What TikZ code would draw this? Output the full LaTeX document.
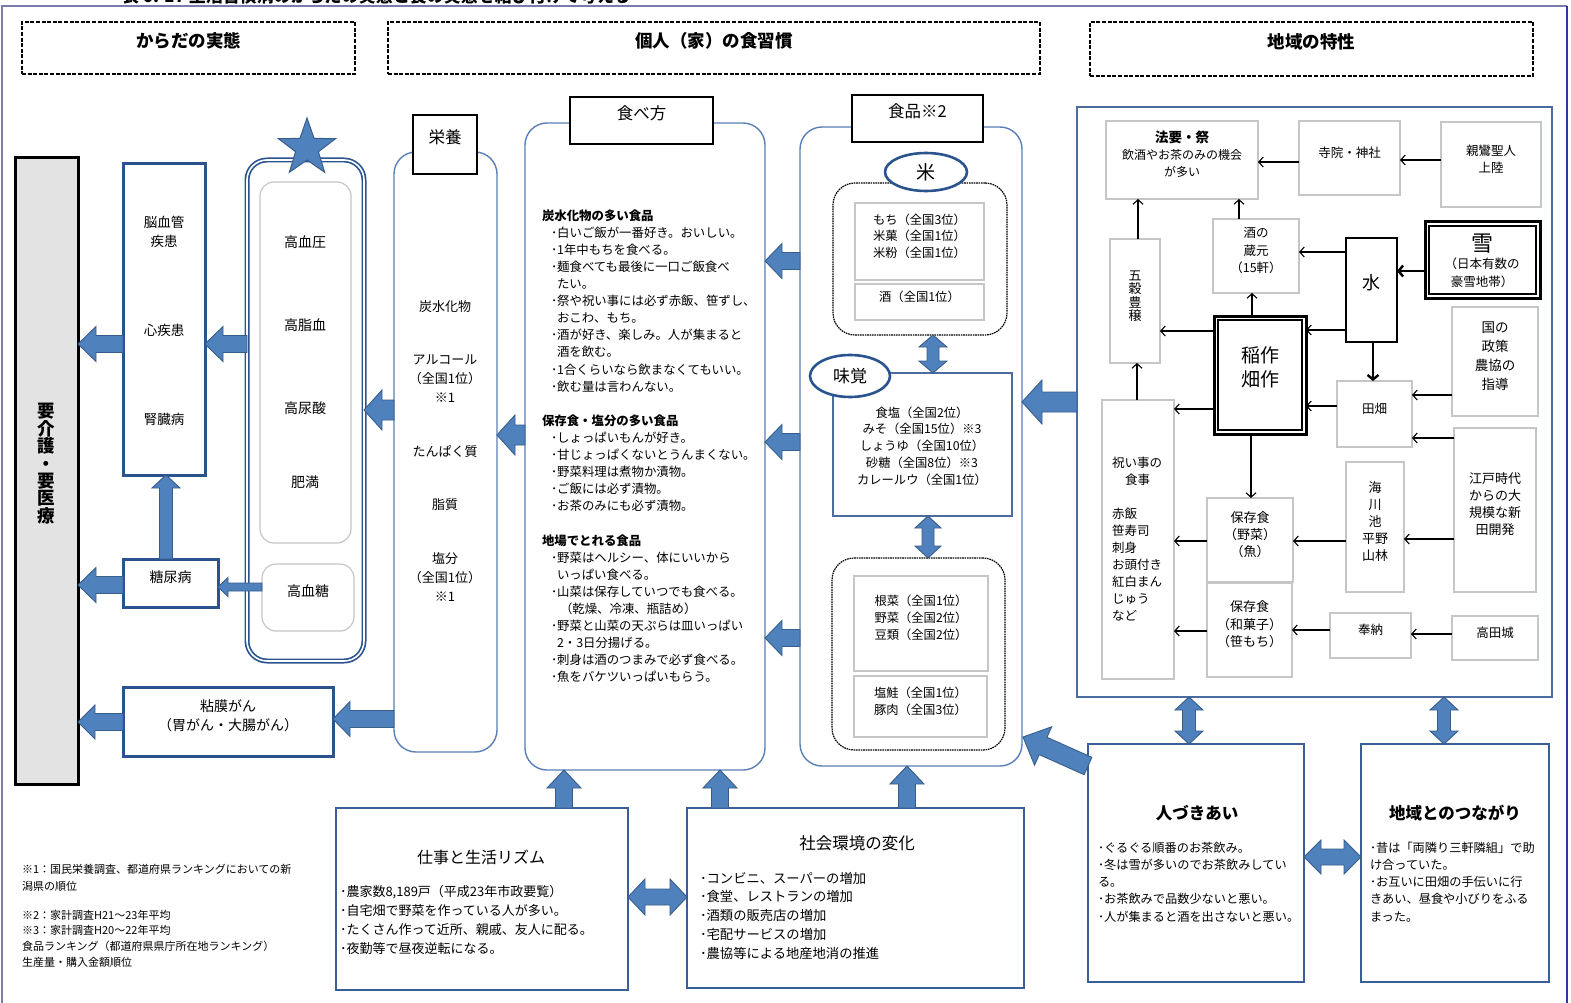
\documentclass[tikz,border=0pt]{standalone}
\usepackage{fontspec}
\setmainfont{Noto Sans CJK JP}
\usetikzlibrary{calc,fit,shapes.geometric,arrows.meta}
\definecolor{afill}{HTML}{4F81BD}
\definecolor{adraw}{HTML}{385D8A}
\definecolor{dblue}{HTML}{2B548F}
\definecolor{bblue2}{HTML}{3A5F96}
\definecolor{cblue}{HTML}{5A7FB6}
\definecolor{rblue}{HTML}{4B6C9E}
\definecolor{gbord}{HTML}{C6C6C6}
\definecolor{framel}{HTML}{7C7CAA}
\definecolor{framer}{HTML}{2B3A9A}
\newcommand\fsz[2]{\fontsize{#1}{#2}\selectfont}
\newcommand\eatb{\hspace*{9pt}･}
\newcommand\eatc{\hspace*{15pt}}
\newcommand\blockarrow[5]{%
  \coordinate (ba-s) at (#1); \coordinate (ba-e) at (#2);
  \coordinate (ba-h) at ($(ba-e)!#5pt!(ba-s)$);
  \filldraw[barrow] ($(ba-s)!#3pt!90:(ba-e)$) -- ($(ba-h)!#3pt!90:(ba-e)$) -- ($(ba-h)!#4pt!90:(ba-e)$) -- (ba-e)
    -- ($(ba-h)!#4pt!-90:(ba-e)$) -- ($(ba-h)!#3pt!-90:(ba-e)$) -- ($(ba-s)!#3pt!-90:(ba-e)$) -- cycle;}
\newcommand\dblarrow[5]{%
  \coordinate (ba-s) at (#1); \coordinate (ba-e) at (#2);
  \coordinate (ba-h) at ($(ba-e)!#5pt!(ba-s)$);
  \coordinate (ba-g) at ($(ba-s)!#5pt!(ba-e)$);
  \filldraw[barrow] (ba-s) -- ($(ba-g)!#4pt!90:(ba-e)$) -- ($(ba-g)!#3pt!90:(ba-e)$) -- ($(ba-h)!#3pt!90:(ba-e)$) -- ($(ba-h)!#4pt!90:(ba-e)$) -- (ba-e)
    -- ($(ba-h)!#4pt!-90:(ba-e)$) -- ($(ba-h)!#3pt!-90:(ba-e)$) -- ($(ba-g)!#3pt!-90:(ba-e)$) -- ($(ba-g)!#4pt!-90:(ba-e)$) -- cycle;}
\tikzset{
  every node/.style={inner sep=0pt, outer sep=0pt, align=center, font=\fsz{12}{17}},
  hdr/.style={draw, line width=1.8pt, dash pattern=on 4pt off 1.6pt, font=\bfseries\fsz{17.5}{20}},
  bbox/.style={draw=dblue, line width=3pt, font=\fsz{14}{18.5}},
  bbox2/.style={draw=bblue2, line width=2.2pt},
  col/.style={draw=cblue, line width=1.4pt, rounded corners=22pt},
  lab/.style={draw=black, line width=1.3pt, fill=white, font=\fsz{16.5}{20}},
  gbox/.style={draw=gbord, line width=1.8pt, font=\fsz{12.5}{17}},
  kbox/.style={draw=black, line width=2.4pt},
  inbox/.style={draw=gray!45, line width=1.2pt, rounded corners=14pt, font=\fsz{14}{18}},
  dgrp/.style={draw=black, line width=1.2pt, dash pattern=on 1.6pt off 0.8pt, rounded corners=22pt},
  ell/.style={ellipse, draw=dblue, line width=2.6pt, fill=white, minimum width=82pt, minimum height=38pt, font=\fsz{19}{19}},
  barrow/.style={fill=afill, draw=adraw, line width=0.9pt, line join=miter},
  bk/.style={draw=black, line width=1.1pt, -{Straight Barb[length=4.5pt,width=10pt]}},
  bkt/.style={draw=black, line width=2.4pt, -{Straight Barb[length=4.5pt,width=11pt]}},
  dbox/.style={draw=dblue, double=white, double distance=1.6pt, line width=1.7pt, rounded corners=20pt},
  region/.style={draw=rblue, line width=2.6pt},
  txt/.style={anchor=north west, align=left},
}
\begin{document}
\begin{tikzpicture}[x=1pt,y=-1pt]
\useasboundingbox (0,0) rectangle (1571,1003);
\fill[white] (0,0) rectangle (1571,1003);
% title (cut at top, as in the reference) and frame
\node[anchor=base, font=\bfseries\fsz{17}{17}] (title) at (376,2.5) {表 6. 17 生活習慣病のからだの実態と食の実態を結び付けて考える};
\draw[framel, line width=1.2pt] (2,1003) -- (2,6) -- (1567,6);
\draw[framer, line width=1.2pt] (1567,6) -- (1567,1003);
% headers
\node[hdr, fit={(22,22) (355,74)}] (h1) {からだの実態};
\node[hdr, fit={(388,22) (1040,74)}] (h2) {個人（家）の食習慣};
\node[hdr, fit={(1090,22) (1533,76)}] (h3) {地域の特性};
% body column
\node[draw, line width=3pt, fill=gray!22, fit={(15,158) (78,784)}, font=\bfseries\fsz{17.5}{17.4}] (care) {要\\介\\護\\・\\要\\医\\療};
\node[bbox, fit={(123,164) (205,475)}] (dis) {};
\node[font=\fsz{13.5}{19}] (d1) at (164,232) {脳血管\\疾患};
\node[font=\fsz{13.5}{19}] (d2) at (164,330) {心疾患};
\node[font=\fsz{13.5}{19}] (d3) at (164,419) {腎臓病};
\node[dbox, fit={(247,160) (364,661)}] (hbox) {};
\node[inbox, fit={(260,182) (351,543)}] (hb1) {};
\node[font=\fsz{14}{18}] (k1) at (305,242) {高血圧};
\node[font=\fsz{14}{18}] (k2) at (305,325) {高脂血};
\node[font=\fsz{14}{18}] (k3) at (305,408) {高尿酸};
\node[font=\fsz{14}{18}] (k4) at (305,482) {肥満};
\node[inbox, fit={(262,564) (354,631)}] (hb2) {高血糖};
\node[star, star points=5, star point ratio=2.5, minimum size=60pt, fill=afill, draw=adraw, line width=1pt] (star) at (307,148) {};
\node[bbox, fit={(123,559) (218,607)}] (dm) {糖尿病};
\node[bbox, fit={(123,687) (333,756)}] (can) {粘膜がん\\（胃がん・大腸がん）};
% nutrition column
\node[col, fit={(394,152) (497,752)}] (nut) {};
\node[lab, fit={(413,115) (477,174)}] (nutl) {栄養};
\node[font=\fsz{13}{19}] (n1) at (445,307) {炭水化物};
\node[font=\fsz{13}{19}] (n2) at (445,379) {アルコール\\（全国1位）\\※1};
\node[font=\fsz{13}{19}] (n3) at (445,452) {たんぱく質};
\node[font=\fsz{13}{19}] (n4) at (445,505) {脂質};
\node[font=\fsz{13}{19}] (n5) at (445,577) {塩分\\（全国1位）\\※1};
% eating column
\node[col, fit={(525,123) (765,770)}] (eat) {};
\node[lab, fit={(570,97) (713,144)}] (eatl) {食べ方};
\node[txt, font=\fsz{12.4}{17.1}] (eattx) at (542,209.5) {%
\textbf{炭水化物の多い食品}\\
\eatb 白いご飯が一番好き。おいしい。\\
\eatb 1年中もちを食べる。\\
\eatb 麺食べても最後に一口ご飯食べ\\
\eatc たい。\\
\eatb 祭や祝い事には必ず赤飯、笹ずし、\\
\eatc おこわ、もち。\\
\eatb 酒が好き、楽しみ。人が集まると\\
\eatc 酒を飲む。\\
\eatb 1合くらいなら飲まなくてもいい。\\
\eatb 飲む量は言わんない。\\
\mbox{}\\
\textbf{保存食・塩分の多い食品}\\
\eatb しょっぱいもんが好き。\\
\eatb 甘じょっぱくないとうんまくない。\\
\eatb 野菜料理は煮物か漬物。\\
\eatb ご飯には必ず漬物。\\
\eatb お茶のみにも必ず漬物。\\
\mbox{}\\
\textbf{地場でとれる食品}\\
\eatb 野菜はヘルシー、体にいいから\\
\eatc いっぱい食べる。\\
\eatb 山菜は保存していつでも食べる。\\
\eatc\hspace*{3pt}（乾燥、冷凍、瓶詰め）\\
\eatb 野菜と山菜の天ぷらは皿いっぱい\\
\eatc 2・3日分揚げる。\\
\eatb 刺身は酒のつまみで必ず食べる。\\
\eatb 魚をバケツいっぱいもらう。};
% food column
\node[col, fit={(800,127) (1022,766)}] (food) {};
\node[lab, fit={(852,95) (983,142)}] (foodl) {食品※2};
\node[dgrp, fit={(833,183) (1007,335)}] (riceg) {};
\node[gbox, font=\fsz{12.3}{16.5}, fit={(855,203) (984,280)}] (rice1) {もち（全国3位）\\米菓（全国1位）\\米粉（全国1位）};
\node[gbox, font=\fsz{12.3}{16.5}, fit={(855,284) (984,320)}] (rice2) {酒（全国1位）};
\node[ell] (ricel) at (926,172) {米};
\node[draw=rblue, line width=1.2pt, fit={(833,373) (1012,516)}] (taste) {};
\node[font=\fsz{12.3}{16.8}] (tastetx) at (922,446) {食塩（全国2位）\\みそ（全国15位）※3\\しょうゆ（全国10位）\\砂糖（全国8位）※3\\カレールウ（全国1位）};
\node[ell, minimum width=80pt, minimum height=42pt, font=\fsz{17}{17}] (tastel) at (850,376) {味覚};
\node[dgrp, fit={(832,558) (1005,750)}] (lowg) {};
\node[gbox, font=\fsz{12.3}{17}, fit={(854,576) (988,671)}] (low1) {根菜（全国1位）\\野菜（全国2位）\\豆類（全国2位）};
\node[gbox, font=\fsz{12.3}{17}, fit={(854,676) (987,737)}] (low2) {塩鮭（全国1位）\\豚肉（全国3位）};
% region
\node[region, fit={(1077,107) (1552,697)}] (region) {};
\node[gbox, fit={(1106,121) (1258,199)}, font=\fsz{12}{17}] (hoyo) {{\bfseries\fsz{13.5}{17}法要・祭}\\飲酒やお茶のみの機会\\が多い};
\node[gbox, fit={(1299,121) (1400,195)}] (tera) {寺院・神社};
\node[gbox, fit={(1441,122) (1541,207)}] (shin) {親鸞聖人\\上陸};
\node[gbox, fit={(1110,239) (1160,363)}, font=\fsz{13}{13.4}] (gokoku) {五\\穀\\豊\\穣};
\node[gbox, fit={(1213,219) (1299,293)}, font=\fsz{12.5}{17.5}] (kura) {酒の\\蔵元\\（15軒）};
\node[kbox, fit={(1346,238) (1397,342)}, font=\fsz{18}{18}] (mizu) {水};
\node[kbox, line width=3pt, fit={(1425,222) (1540,298)}] (yuki) {};
\draw[line width=1.1pt] ([shift={(4,4)}]yuki.north west) rectangle ([shift={(-4,-4)}]yuki.south east);
\node[font=\fsz{22}{22}] (yuki1) at (1482,244) {雪};
\node[font=\fsz{12.5}{18}] (yuki2) at (1482,273) {（日本有数の\\豪雪地帯）};
\node[kbox, line width=3pt, fit={(1214,316) (1306,434)}, font=\fsz{19}{24}] (ine) {稲作\\畑作};
\draw[line width=1.1pt] ([shift={(4,4)}]ine.north west) rectangle ([shift={(-4,-4)}]ine.south east);
\node[gbox, fit={(1452,307) (1538,416)}, font=\fsz{13.5}{19}] (kuni) {国の\\政策\\農協の\\指導};
\node[gbox, fit={(1337,381) (1412,447)}] (tahata) {田畑};
\node[gbox, fit={(1102,400) (1174,679)}] (iwai) {};
\node[txt, font=\fsz{12.5}{17}] (iwaitx) at (1112,457) {祝い事の\\\hspace*{13pt}食事\\\mbox{}\\赤飯\\笹寿司\\刺身\\お頭付き\\紅白まん\\じゅう\\など};
\node[gbox, fit={(1454,428) (1536,592)}, font=\fsz{13}{17}] (edo) {江戸時代\\からの大\\規模な新\\田開発};
\node[gbox, fit={(1346,462) (1404,592)}, font=\fsz{13}{17.2}] (umi) {海\\川\\池\\平野\\山林};
\node[gbox, fit={(1207,498) (1293,582)}, font=\fsz{13}{17}] (hoz1) {保存食\\（野菜）\\（魚）};
\node[gbox, fit={(1207,583) (1292,677)}, font=\fsz{13}{17.5}] (hoz2) {保存食\\（和菓子）\\（笹もち）};
\node[gbox, fit={(1330,613) (1411,658)}] (hono) {奉納};
\node[gbox, fit={(1452,616) (1538,660)}] (takada) {高田城};
% region arrows
\draw[bk] (tera.west |- 0,162) -- (hoyo.east |- 0,162);
\draw[bk] (shin.west |- 0,160) -- (tera.east |- 0,160);
\draw[bk] (gokoku.north -| 1138,0) -- (hoyo.south -| 1138,0);
\draw[bk] (kura.north -| 1239,0) -- (hoyo.south -| 1239,0);
\draw[bk] (mizu.west |- 0,252) -- (kura.east |- 0,252);
\draw[bkt] (yuki.west |- 0,271) -- (mizu.east |- 0,271);
\draw[bk] (mizu.west |- 0,330) -- (ine.east |- 0,330);
\draw[bk] (ine.north -| 1252,0) -- (kura.south -| 1252,0);
\draw[bk] (ine.west |- 0,331) -- (gokoku.east |- 0,331);
\draw[bkt] (mizu.south -| 1373,0) -- (tahata.north -| 1373,0);
\draw[bk] (tahata.west |- 0,406) -- (ine.east |- 0,406);
\draw[bk] (kuni.west |- 0,395) -- (tahata.east |- 0,395);
\draw[bk] (ine.west |- 0,409) -- (iwai.east |- 0,409);
\draw[bk] (iwai.north -| 1137,0) -- (gokoku.south -| 1137,0);
\draw[bk] (ine.south -| 1251,0) -- (hoz1.north -| 1251,0);
\draw[bk] (edo.west |- 0,438) -- (tahata.east |- 0,438);
\draw[bk] (edo.west |- 0,539) -- (umi.east |- 0,539);
\draw[bk] (umi.west |- 0,541) -- (hoz1.east |- 0,541);
\draw[bk] (hoz1.west |- 0,541) -- (iwai.east |- 0,541);
\draw[bk] (takada.west |- 0,634) -- (hono.east |- 0,634);
\draw[bk] (hono.west |- 0,630) -- (hoz2.east |- 0,630);
\draw[bk] (hoz2.west |- 0,631) -- (iwai.east |- 0,631);
% bottom boxes
\node[bbox2, fit={(336,808) (628,990)}] (work) {};
\node[font=\fsz{16}{18}] (workt) at (481,857) {仕事と生活リズム};
\node[txt, font=\fsz{13}{19}] (worktx) at (340,885) {･農家数8,189戸（平成23年市政要覧）\\･自宅畑で野菜を作っている人が多い。\\･たくさん作って近所、親戚、友人に配る。\\･夜勤等で昼夜逆転になる。};
\node[bbox2, fit={(687,808) (1024,988)}] (soc) {};
\node[font=\fsz{16.5}{18}] (soct) at (857,843) {社会環境の変化};
\node[txt, font=\fsz{13.3}{18.75}] (soctx) at (700,872) {･コンビニ、スーパーの増加\\･食堂、レストランの増加\\･酒類の販売店の増加\\･宅配サービスの増加\\･農協等による地産地消の推進};
\node[bbox2, fit={(1088,744) (1304,982)}] (hito) {};
\node[font=\bfseries\fsz{16.5}{18}] (hitot) at (1197,813) {人づきあい};
\node[txt, font=\fsz{12.2}{17.2}] (hitotx) at (1098,842) {･ぐるぐる順番のお茶飲み。\\･冬は雪が多いのでお茶飲みしてい\\る。\\･お茶飲みで品数少ないと悪い。\\･人が集まると酒を出さないと悪い。};
\node[bbox2, fit={(1361,744) (1549,982)}] (chiiki) {};
\node[font=\bfseries\fsz{16.5}{18}] (chiikit) at (1455,813) {地域とのつながり};
\node[txt, font=\fsz{12.2}{17.2}] (chiikitx) at (1370,842) {･昔は「両隣り三軒隣組」で助\\け合っていた。\\･お互いに田畑の手伝いに行\\きあい、昼食や小びりをふる\\まった。};
% notes
\node[txt, font=\fsz{11}{17}] (note1) at (22,864) {※1：国民栄養調査、都道府県ランキングにおいての新\\潟県の順位};
\node[txt, font=\fsz{11}{15.7}] (note2) at (22,910) {※2：家計調査H21～23年平均\\※3：家計調査H20～22年平均\\食品ランキング（都道府県県庁所在地ランキング）\\生産量・購入金額順位};
% block arrows
\blockarrow{dis.west |- 0,344}{care.east |- 0,344}{8.5}{17.5}{18}
\blockarrow{hbox.west |- 0,344}{dis.east |- 0,344}{8.5}{17.5}{18}
\blockarrow{nut.west |- 0,410}{hbox.east |- 0,410}{10}{20}{18}
\blockarrow{dm.west |- 0,585}{care.east |- 0,585}{8.5}{17.5}{18}
\blockarrow{hb2.west |- 0,587}{dm.east |- 0,587}{4}{9.5}{10}
\blockarrow{dm.north -| 166,0}{dis.south -| 166,0}{6.5}{14}{13}
\blockarrow{can.west |- 0,722}{care.east |- 0,722}{8.5}{17}{17}
\blockarrow{nut.west |- 0,719}{can.east |- 0,719}{8.5}{17.5}{17}
\blockarrow{eat.west |- 0,435}{nut.east |- 0,435}{10}{20}{18}
\blockarrow{food.west |- 0,261}{eat.east |- 0,261}{8.5}{17.5}{17}
\blockarrow{food.west |- 0,442}{eat.east |- 0,442}{8.5}{17.5}{17}
\blockarrow{food.west |- 0,638}{eat.east |- 0,638}{8.5}{17.5}{17}
\blockarrow{region.west |- 0,402}{food.east |- 0,402}{10}{22}{20}
\blockarrow{work.north -| 564,0}{eat.south -| 564,0}{8.5}{17}{18}
\blockarrow{soc.north -| 720,0}{eat.south -| 720,0}{8.5}{17}{18}
\blockarrow{soc.north -| 907,0}{food.south -| 907,0}{8.5}{17}{18}
\coordinate (foodc) at (1023,737);
\blockarrow{hito.west |- 0,766}{foodc}{9.5}{21}{22}
\dblarrow{work.east |- 0,897}{soc.west |- 0,897}{8}{18}{17}
\dblarrow{hito.east |- 0,857}{chiiki.west |- 0,857}{8}{17}{17}
\dblarrow{riceg.south -| 933,0}{taste.north -| 933,0}{6}{14}{12}
\dblarrow{taste.south -| 928,0}{lowg.north -| 928,0}{6}{13}{12}
\dblarrow{region.south -| 1189,0}{hito.north -| 1189,0}{6.5}{14}{13}
\dblarrow{region.south -| 1444,0}{chiiki.north -| 1444,0}{6.5}{14}{13}
\end{tikzpicture}
\end{document}
